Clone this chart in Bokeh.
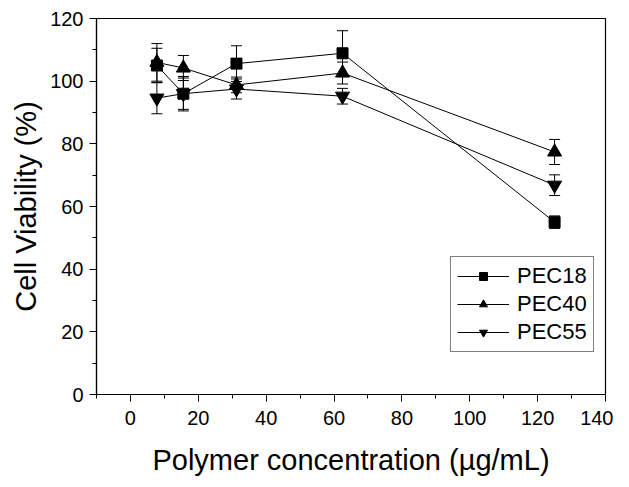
from bokeh.plotting import figure
from bokeh.models import ColumnDataSource, Whisker, Legend, LegendItem, Range1d, FixedTicker
from bokeh.embed import file_html
from bokeh.resources import INLINE

conc = [7.8, 15.6, 31.25, 62.5, 125]
pec18 = [105.0, 96.0, 105.6, 108.9, 55.0]
pec18_err = [5.5, 5.5, 5.7, 7.2, 2.0]
pec40 = [106.0, 104.2, 98.8, 102.6, 77.4]
pec40_err = [6.0, 4.0, 2.5, 3.5, 4.0]
pec55 = [94.6, 96.0, 97.5, 95.2, 66.8]
pec55_err = [5.0, 5.0, 3.2, 2.5, 3.3]
names = ["PEC18", "PEC40", "PEC55"]
markers = ["square", "triangle", "inverted_triangle"]
sizes = [11, 14, 14]

FONT = "Liberation Sans"

p = figure(width=613, height=479, output_backend="svg", toolbar_location=None,
           x_range=Range1d(-10, 140), y_range=Range1d(0, 120),
           min_border_left=96, min_border_top=18, min_border_right=8, min_border_bottom=85)
p.xgrid.visible = False
p.ygrid.visible = False
p.outline_line_color = "black"
p.outline_line_width = 1.2
p.background_fill_color = "white"
p.border_fill_color = "white"

for ax in (p.xaxis[0], p.yaxis[0]):
    ax.axis_line_color = "black"
    ax.axis_line_width = 1.2
    ax.major_tick_line_color = "black"
    ax.minor_tick_line_color = "black"
    ax.major_tick_in = 0
    ax.major_tick_out = 7
    ax.minor_tick_in = 0
    ax.minor_tick_out = 4
    ax.major_label_text_font = FONT
    ax.major_label_text_font_size = "20px"
    ax.major_label_text_color = "black"
    ax.axis_label_text_font = FONT
    ax.axis_label_text_font_size = "29px"
    ax.axis_label_text_font_style = "normal"
    ax.axis_label_text_color = "black"

p.xaxis.ticker = FixedTicker(ticks=list(range(0, 141, 20)), minor_ticks=list(range(-10, 141, 10)))
p.yaxis.ticker = FixedTicker(ticks=list(range(0, 121, 20)), minor_ticks=list(range(0, 121, 10)))
p.xaxis.axis_label = "Polymer concentration (µg/mL)"
p.yaxis.axis_label = "Cell Viability (%)"
p.xaxis.major_label_standoff = 9
p.yaxis.major_label_standoff = 6
p.xaxis.axis_label_standoff = 16
p.yaxis.axis_label_standoff = 5

items = []
for name, ys, errs, mk, sz in zip(names, [pec18, pec40, pec55], [pec18_err, pec40_err, pec55_err], markers, sizes):
    src = ColumnDataSource(dict(x=conc, y=ys,
                                lo=[a - b for a, b in zip(ys, errs)],
                                hi=[a + b for a, b in zip(ys, errs)]))
    w = Whisker(base="x", upper="hi", lower="lo", source=src, line_color="black", line_width=1)
    w.upper_head.size = 11
    w.lower_head.size = 11
    w.upper_head.line_color = "black"
    w.lower_head.line_color = "black"
    p.add_layout(w)
    ln = p.line("x", "y", source=src, line_color="black", line_width=1)
    sc = p.scatter("x", "y", source=src, marker=mk, size=sz, fill_color="black", line_color="black")
    items.append(LegendItem(label=name, renderers=[ln, sc]))

legend = Legend(items=items, location=(354, 42), border_line_color="black", border_line_width=1,
                label_text_font=FONT, label_text_font_size="22px", label_text_color="black",
                glyph_width=52, glyph_height=20, spacing=2, padding=6, margin=0,
                label_standoff=8, label_height=20, background_fill_alpha=1.0)
p.add_layout(legend, "center")

open("out.html", "w").write(file_html(p, INLINE))
